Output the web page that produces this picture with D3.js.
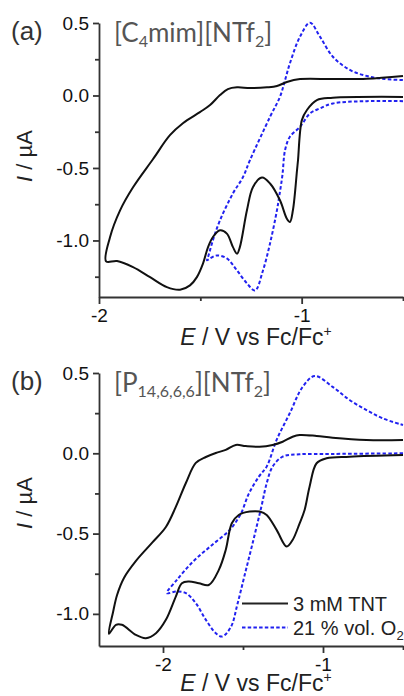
<!DOCTYPE html>
<html>
<head>
<meta charset="utf-8">
<script src="https://cdn.jsdelivr.net/npm/d3@7"></script>
<style>
  body { margin: 0; background: #fff; }
  svg { display: block; }
</style>
</head>
<body>
<div id="graph"></div>
<script>
// panel (a) [C4mim][NTf2]: 3 mM TNT (solid) and 21 % O2 (dashed), cathodic scan then return
var tntA_E = [-0.50, -0.846, -0.925, -0.974, -0.999, -1.018, -1.023, -1.043, -1.058, -1.073, -1.107, -1.156, -1.196, -1.24, -1.27, -1.305, -1.319, -1.339, -1.369, -1.403, -1.438, -1.462, -1.487, -1.517, -1.551, -1.60, -1.665, -1.748, -1.832, -1.911, -1.965,
  -1.946, -1.896, -1.832, -1.734, -1.650, -1.586, -1.502, -1.452, -1.403, -1.364, -1.319, -1.255, -1.171, -1.122, -1.073, -1.008, -0.846, -0.678, -0.50];
var tntA_I = [-0.01, -0.016, -0.032, -0.10, -0.17, -0.446, -0.516, -0.79, -0.873, -0.85, -0.723, -0.607, -0.566, -0.631, -0.792, -1.046, -1.091, -1.046, -0.953, -0.93, -0.976, -1.046, -1.16, -1.253, -1.31, -1.34, -1.322, -1.253, -1.184, -1.142, -1.144,
  -0.979, -0.792, -0.633, -0.44, -0.274, -0.191, -0.115, -0.066, 0.003, 0.044, 0.056, 0.051, 0.056, 0.065, 0.093, 0.113, 0.113, 0.115, 0.134];

var o2A_E = [-0.50, -0.678, -0.846, -0.910, -0.959, -1.008, -1.058, -1.082, -1.095, -1.110, -1.122, -1.156, -1.191, -1.230, -1.270, -1.319, -1.369, -1.418, -1.452, -1.467,
  -1.462, -1.438, -1.403, -1.339, -1.290, -1.255, -1.156, -1.107, -1.082, -1.058, -1.008, -0.959, -0.910, -0.846, -0.762, -0.678, -0.599, -0.50];
var o2A_I = [-0.039, -0.039, -0.055, -0.089, -0.124, -0.216, -0.285, -0.377, -0.55, -0.69, -0.792, -1.02, -1.207, -1.345, -1.296, -1.207, -1.124, -1.103, -1.124, -1.137,
  -1.115, -0.999, -0.861, -0.675, -0.564, -0.446, -0.147, -0.009, 0.106, 0.222, 0.406, 0.502, 0.406, 0.267, 0.176, 0.134, 0.115, 0.106];

// panel (b) [P14,6,6,6][NTf2]
var tntB_E = [-0.50, -0.834, -0.978, -1.04, -1.084, -1.115, -1.146, -1.19, -1.227, -1.29, -1.352, -1.396, -1.458, -1.527, -1.570, -1.608, -1.651, -1.714, -1.776, -1.839, -1.882, -1.92, -1.982, -2.044, -2.107, -2.169, -2.257, -2.294, -2.338,
  -2.312, -2.287, -2.244, -2.169, -2.069, -1.982, -1.92, -1.857, -1.795, -1.732, -1.67, -1.608, -1.545, -1.483, -1.396, -1.315, -1.252, -1.19, -1.146, -1.04, -0.94, -0.728, -0.50];
var tntB_I = [-0.011, -0.021, -0.031, -0.062, -0.208, -0.353, -0.436, -0.54, -0.581, -0.477, -0.384, -0.363, -0.363, -0.384, -0.436, -0.602, -0.726, -0.82, -0.809, -0.799, -0.809, -0.892, -1.037, -1.12, -1.151, -1.131, -1.068, -1.068, -1.124,
  -0.988, -0.882, -0.776, -0.67, -0.558, -0.459, -0.334, -0.185, -0.06, -0.023, 0.002, 0.021, 0.052, 0.045, 0.041, 0.052, 0.072, 0.103, 0.114, 0.108, 0.097, 0.083, 0.083];

var o2B_E = [-0.50, -0.94, -1.146, -1.252, -1.315, -1.352, -1.385, -1.44, -1.49, -1.535, -1.575, -1.63, -1.67, -1.732, -1.795, -1.857, -1.92, -1.976,
  -1.913, -1.814, -1.701, -1.583, -1.514, -1.464, -1.402, -1.352, -1.29, -1.208, -1.127, -1.052, -0.94, -0.834, -0.728, -0.628, -0.50];
var o2B_I = [0.0, -0.004, -0.006, -0.021, -0.083, -0.187, -0.332, -0.56, -0.76, -0.94, -1.08, -1.141, -1.12, -1.037, -0.933, -0.871, -0.861, -0.871,
  -0.788, -0.676, -0.577, -0.477, -0.377, -0.253, -0.147, -0.083, 0.083, 0.249, 0.414, 0.481, 0.414, 0.332, 0.269, 0.218, 0.176];

var yMajor = [0.5, 0.0, -0.5, -1.0];
var yMinor = [0.25, -0.25, -0.75, -1.25];
var xMajor = [-2, -1];
var xMinor = [-2.5, -1.5, -0.5];
var seriesNames = ["3 mM TNT", "21 % vol. O2"];

var width = 404, height = 696;
var blue = "#2121f0";

const svg = d3.select("#graph").append("svg")
    .attr("width", width)
    .attr("height", height);

var line = d3.line().curve(d3.curveCatmullRom.alpha(0.5));
var fmt = d => d3.format(".1f")(d).replace("\u2212", "-");

function zip(E, I) { return E.map((e, i) => [e, I[i]]); }

function panel(opt) {
  var x = d3.scaleLinear().domain(opt.xDom).range([99, 403]);
  var y = d3.scaleLinear().domain(opt.yDom).range([opt.bottom, opt.top]);
  var g = svg.append("g");

  // minor ticks
  g.append("g")
      .attr("transform", `translate(0,${opt.bottom})`)
      .call(d3.axisBottom(x).tickValues(xMinor.filter(v => v >= opt.xDom[0] && v <= opt.xDom[1])).tickSize(4).tickFormat(""))
      .call(a => a.select(".domain").remove());
  g.append("g")
      .attr("transform", "translate(99,0)")
      .call(d3.axisLeft(y).tickValues(yMinor.filter(v => v >= opt.yDom[0])).tickSize(4).tickFormat(""))
      .call(a => a.select(".domain").remove());

  // major axes
  g.append("g")
      .attr("transform", `translate(0,${opt.bottom})`)
      .call(d3.axisBottom(x).tickValues(xMajor).tickSize(7).tickSizeOuter(0).tickPadding(5).tickFormat(d => String(d)))
      .attr("font-size", 19)
      .attr("font-family", "Liberation Sans, Arial, sans-serif");
  g.append("g")
      .attr("transform", "translate(99,0)")
      .call(d3.axisLeft(y).tickValues(yMajor).tickSize(6).tickSizeOuter(0).tickPadding(4).tickFormat(fmt))
      .attr("font-size", 19)
      .attr("font-family", "Liberation Sans, Arial, sans-serif");

  g.selectAll(".domain, .tick line").attr("stroke", "#333").attr("stroke-width", 1.8);
  g.selectAll(".tick text").attr("fill", "#111");

  // curves
  var clip = "clip" + opt.id;
  svg.append("clipPath").attr("id", clip)
    .append("rect").attr("x", 99).attr("y", opt.top - 10).attr("width", 310).attr("height", opt.bottom - opt.top + 10);

  var curves = g.append("g").attr("clip-path", `url(#${clip})`).attr("fill", "none");
  curves.append("path")
      .attr("d", line(zip(opt.o2E, opt.o2I).map(d => [x(d[0]), y(d[1])])))
      .attr("stroke", blue)
      .attr("stroke-width", 2)
      .attr("stroke-dasharray", "3.5,2.2");
  curves.append("path")
      .attr("d", line(zip(opt.tntE, opt.tntI).map(d => [x(d[0]), y(d[1])])))
      .attr("stroke", "#111")
      .attr("stroke-width", 2);

  // panel letter
  svg.append("text")
      .attr("x", 11).attr("y", opt.top + 17)
      .attr("font-family", "Liberation Sans, Arial, sans-serif")
      .attr("font-size", 26).attr("fill", "#333")
      .text(opt.letter);

  // ionic liquid name
  var nm = svg.append("text")
      .attr("x", 114).attr("y", opt.top + 19)
      .attr("font-family", "Lato, 'Open Sans', sans-serif")
      .attr("font-size", 26).attr("fill", "#555");
  opt.name.forEach(p => {
    var t = nm.append("tspan").text(p[0]);
    if (p[1]) t.attr("font-size", p[1] === "big" ? 26 : 16).attr("dy", p[1] === "sub" ? 5 : -5);
  });

  // axis titles
  var xt = svg.append("text")
      .attr("x", 256).attr("y", opt.bottom + opt.xTitle)
      .attr("text-anchor", "middle")
      .attr("font-family", "Liberation Sans, Arial, sans-serif")
      .attr("font-size", 23).attr("fill", "#222");
  xt.append("tspan").attr("font-style", "italic").text("E");
  xt.append("tspan").text(" / V vs Fc/Fc");
  xt.append("tspan").attr("font-size", 14).attr("dy", -9).text("+");

  var yt = svg.append("text")
      .attr("transform", `translate(32,${opt.yTitle}) rotate(-90)`)
      .attr("text-anchor", "middle")
      .attr("font-family", "Liberation Sans, Arial, sans-serif")
      .attr("font-size", 22).attr("fill", "#222");
  yt.append("tspan").attr("font-style", "italic").text("I");
  yt.append("tspan").text(" / \u00b5A");

  return {x: x, y: y};
}

panel({
  id: "a", letter: "(a)", xDom: [-2, -0.5], yDom: [-1.39, 0.5], top: 23, bottom: 297, yTitle: 156, xTitle: 48,
  tntE: tntA_E, tntI: tntA_I, o2E: o2A_E, o2I: o2A_I,
  name: [["[C"], ["4", "sub"], ["mim][NTf", "big"], ["2", "sub"], ["]", "big"]]
});

panel({
  id: "b", letter: "(b)", xDom: [-2.4, -0.5], yDom: [-1.2, 0.5], top: 373, bottom: 646, yTitle: 503, xTitle: 45,
  tntE: tntB_E, tntI: tntB_I, o2E: o2B_E, o2I: o2B_I,
  name: [["[P"], ["14,6,6,6", "sub"], ["][NTf", "big"], ["2", "sub"], ["]", "big"]]
});

// legend (panel b)
var leg = svg.append("g").attr("font-family", "Liberation Sans, Arial, sans-serif").attr("font-size", 20).attr("fill", "#222");
leg.append("line").attr("x1", 242).attr("x2", 288).attr("y1", 603.5).attr("y2", 603.5)
    .attr("stroke", "#222").attr("stroke-width", 2);
leg.append("text").attr("x", 293).attr("y", 610.5).text(seriesNames[0]);
leg.append("line").attr("x1", 242).attr("x2", 288).attr("y1", 627.5).attr("y2", 627.5)
    .attr("stroke", blue).attr("stroke-width", 2).attr("stroke-dasharray", "3.5,2.2");
var t2 = leg.append("text").attr("x", 293).attr("y", 634.5);
t2.append("tspan").text(seriesNames[1].slice(0, -1));
t2.append("tspan").attr("font-size", 13).attr("dy", 5).text("2");
</script>
</body>
</html>
